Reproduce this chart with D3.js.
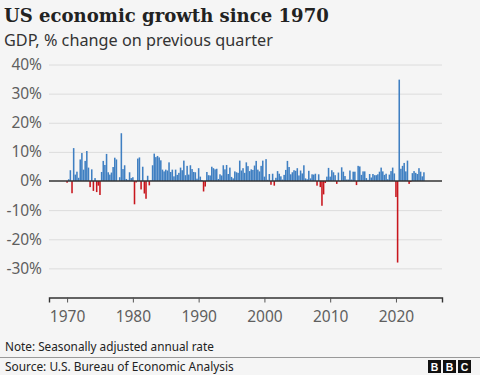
<!DOCTYPE html>
<html>
<head>
<meta charset="utf-8">
<script src="https://cdn.jsdelivr.net/npm/d3@7"></script>
<style>
  html, body { margin: 0; padding: 0; background: #f5f5f5; }
  svg { display: block; }
  .tick text { fill: #5f5f5f; font-family: "Noto Sans", sans-serif; }
</style>
</head>
<body>
<div id="chart"></div>
<script>
// ---------- Data: real GDP, % change on previous quarter (SAAR), Q1..Q4 ----------
const START_YEAR = 1970;
const gdp1970s = [
  -0.6, 0.6, 3.7, -4.2,   11.3, 2.2, 3.2, 1.1,   7.4, 9.6, 3.9, 6.9,
  10.3, 4.6, -2.1, 4.0,   -3.4, 1.0, -3.8, -1.6,  -4.8, 3.1, 6.9, 5.5,
  9.3, 3.0, 2.2, 2.9,     4.8, 8.0, 7.4, 0.0,    1.3, 16.4, 4.1, 5.4,
  0.7, 0.4, 3.0, 1.0
];
const gdp1980s = [
  1.3, -8.0, -0.5, 7.7,   8.1, -2.9, 4.9, -4.3,  -6.1, 1.8, -1.5, 0.2,
  5.4, 9.4, 8.2, 8.6,     8.1, 7.1, 3.9, 3.3,    3.9, 3.6, 6.4, 3.1,
  3.9, 1.6, 3.9, 2.1,     2.8, 4.6, 3.7, 7.0,    2.0, 5.2, 2.2, 5.4,
  4.1, 3.1, 3.0, 0.8
];
const gdp1990s = [
  4.4, 1.5, 0.3, -3.6,    -1.9, 3.1, 2.0, 1.9,   4.9, 4.4, 4.0, 4.2,
  0.7, 2.3, 1.9, 5.4,     4.0, 5.5, 2.4, 4.6,    1.4, 0.9, 3.3, 3.0,
  2.8, 7.0, 3.6, 4.4,     2.8, 6.4, 5.1, 3.4,    4.0, 3.8, 5.3, 6.9,
  3.9, 3.3, 5.2, 7.0
];
const gdp2000s = [
  1.5, 7.5, 0.4, 2.4,     -1.3, 2.5, -1.6, 1.1,  3.4, 2.5, 1.6, 0.5,
  2.1, 3.8, 6.9, 4.8,     2.3, 3.0, 3.7, 3.5,    4.4, 1.9, 3.6, 2.6,
  5.4, 0.9, 0.6, 3.5,     0.9, 2.3, 2.2, 2.5,    -1.6, 2.3, -2.1, -8.5,
  -4.6, -0.7, 1.5, 4.5
];
const gdp2010s = [
  1.5, 3.7, 3.0, 2.0,     -1.0, 2.9, -0.1, 4.7,  3.2, 1.7, 0.5, 0.5,
  3.6, 0.5, 3.2, 3.2,     -1.4, 5.2, 5.0, 2.1,   3.3, 3.3, 1.0, 0.4,
  2.4, 1.2, 2.4, 2.0,     2.0, 2.3, 3.2, 4.6,    3.3, 2.1, 2.5, 0.6,
  2.2, 3.4, 4.6, 2.6
];
const gdp2020s = [
  -5.5, -28.0, 34.8, 4.2, 5.2, 6.2, 3.3, 7.0,   -1.0, -0.3, 2.7, 3.4,
  2.8, 2.4, 4.4, 3.2,     1.6, 3.0
];

const yTickValues = [-30, -20, -10, 0, 10, 20, 30, 40];
const xTickYears = [1970, 1980, 1990, 2000, 2010, 2020];

const rows = [].concat(gdp1970s, gdp1980s, gdp1990s, gdp2000s, gdp2010s, gdp2020s)
  .map((v, i) => ({ t: START_YEAR + i / 4, v }));

// ---------- Layout ----------
const W = 480, H = 375;
const M = { t: 64.5, r: 38, b: 77.5, l: 49 };
const w = W - M.l - M.r, h = H - M.t - M.b;

const svg = d3.select("#chart").append("svg")
  .attr("width", W).attr("height", H);

svg.append("rect").attr("width", W).attr("height", H).attr("fill", "#f5f5f5");

// fit a text element to a target width (fonts differ from the original)
function fitText(sel, size, target) {
  const len = sel.node().getComputedTextLength();
  if (len > 0) sel.style("font-size", (size * target / len).toFixed(2) + "px");
}

// Title + subtitle
const title = svg.append("text")
  .attr("x", 4).attr("y", 22)
  .attr("fill", "#222")
  .style("font-family", "'DejaVu Serif', serif")
  .style("font-weight", "bold")
  .style("font-size", "20px")
  .text("US economic growth since 1970");
fitText(title, 20, 325);

const sub = svg.append("text")
  .attr("x", 4).attr("y", 46)
  .attr("fill", "#333")
  .style("font-family", "'Noto Sans', sans-serif")
  .style("font-size", "15.5px")
  .text("GDP, % change on previous quarter");
fitText(sub, 15.5, 269);

const g = svg.append("g").attr("transform", `translate(${M.l},${M.t})`);

// ---------- Scales ----------
const x = d3.scaleLinear().domain([1967.25, 2027]).range([0, w]);
const y = d3.scaleLinear().domain([-40, 40]).range([h, 0]);

// Gridlines + y labels
const yAxis = g.append("g")
  .call(d3.axisLeft(y).tickValues(yTickValues).tickSize(-w).tickFormat(d => d + "%"));
yAxis.select(".domain").remove();
yAxis.selectAll(".tick line").attr("stroke", "#dcdcdc").attr("stroke-width", 1);
yAxis.selectAll(".tick text")
  .attr("x", -7)
  .style("font-size", "15.5px");
yAxis.selectAll(".tick").filter(d => d === 0).select("line").remove();

// Bars
const bw = 1.55;
g.selectAll("rect.bar")
  .data(rows)
  .join("rect")
  .attr("class", "bar")
  .attr("x", d => x(d.t) - bw / 2)
  .attr("y", d => y(Math.max(0, d.v)))
  .attr("width", bw)
  .attr("height", d => Math.abs(y(d.v) - y(0)))
  .attr("fill", d => d.v < 0 ? "#c8161d" : "#3f7fc2");

// Zero line
g.append("line")
  .attr("x1", 0).attr("x2", w).attr("y1", y(0)).attr("y2", y(0))
  .attr("stroke", "#333").attr("stroke-width", 1.6);

// X axis
const xAxis = g.append("g")
  .attr("transform", `translate(0,${h})`)
  .call(d3.axisBottom(x).tickValues(xTickYears).tickFormat(d3.format("d")).tickSize(5).tickPadding(8));
xAxis.select(".domain").attr("stroke", "#333").attr("stroke-width", 1.4);
xAxis.selectAll(".tick line").attr("stroke", "#555");
xAxis.selectAll(".tick text").style("font-size", "15.5px");

// ---------- Footer ----------
const note = svg.append("text")
  .attr("x", 5).attr("y", 351)
  .attr("fill", "#222")
  .style("font-family", "'Noto Sans', sans-serif")
  .style("font-size", "12px")
  .text("Note: Seasonally adjusted annual rate");
fitText(note, 12, 209);

svg.append("line")
  .attr("x1", 0).attr("x2", W).attr("y1", 357.5).attr("y2", 357.5)
  .attr("stroke", "#999").attr("stroke-width", 1);

const source = svg.append("text")
  .attr("x", 5).attr("y", 370.5)
  .attr("fill", "#222")
  .style("font-family", "'Noto Sans', sans-serif")
  .style("font-size", "12px")
  .text("Source: U.S. Bureau of Economic Analysis");
fitText(source, 12, 229);

// BBC blocks
const logo = svg.append("g").attr("transform", "translate(428,360)");
["B", "B", "C"].forEach((ch, i) => {
  logo.append("rect")
    .attr("x", i * 15).attr("y", 0).attr("width", 13).attr("height", 13)
    .attr("fill", "#111");
  logo.append("text")
    .attr("x", i * 15 + 6.5).attr("y", 10.5)
    .attr("text-anchor", "middle")
    .attr("fill", "#fff")
    .style("font-family", "'Liberation Sans', Arial, sans-serif")
    .style("font-weight", "bold")
    .style("font-size", "10.5px")
    .text(ch);
});
</script>
</body>
</html>
